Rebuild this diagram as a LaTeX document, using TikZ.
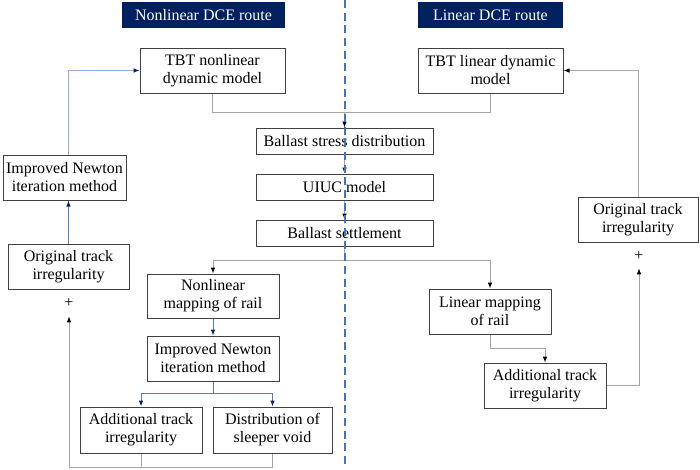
\documentclass[tikz,border=0pt]{standalone}
\usepackage{fontspec}
\setmainfont{Liberation Serif}
\usetikzlibrary{arrows.meta}
\definecolor{navy}{HTML}{0B2466}
\definecolor{hdrfill}{HTML}{002060}
\definecolor{gline}{HTML}{A6A6A6}
\definecolor{lblue}{HTML}{8FAADC}
\definecolor{mblue}{HTML}{5A7BBF}
\definecolor{dashblue}{HTML}{4472C4}
\definecolor{boxline}{HTML}{404040}
\begin{document}
\begin{tikzpicture}[x=0.75pt,y=-0.75pt,
  every node/.style={font=\fontsize{12}{13.5}\selectfont},
  box/.style={draw=boxline,line width=0.75pt,fill=white,inner sep=0pt,align=center},
  hdr/.style={fill=hdrfill,text=white,inner sep=0pt,minimum height=19.5pt},
  plus/.style={inner sep=0pt,minimum width=10pt},
  gconn/.style={draw=gline,line width=0.75pt},
  garrow/.style={gconn,-{Latex[length=4.5pt,width=3.5pt,color=black]}},
  lbconn/.style={draw=lblue,line width=0.75pt},
  lbarrow/.style={lbconn,-{Latex[length=4.5pt,width=3.5pt,color=navy]}},
  mbconn/.style={draw=mblue,line width=0.75pt},
  mbarrow/.style={mbconn,-{Latex[length=4.5pt,width=3.5pt,color=navy]}},
  dashline/.style={draw=dashblue,line width=1.5pt,dash pattern=on 6pt off 3.5pt}
]
\useasboundingbox (0,0) rectangle (700,469);

% headers
\node[hdr,minimum width=122.25pt] (hdrNL) at (203.5,15) {Nonlinear DCE route};
\node[hdr,minimum width=108.75pt] (hdrL) at (490.5,15) {Linear DCE route};

% boxes
\node[box,minimum width=108.75pt,minimum height=33.75pt] (tbtNL) at (212.5,70.5) {TBT nonlinear\\dynamic model};
\node[box,minimum width=108.75pt,minimum height=33.75pt] (tbtL) at (490.5,70.5) {TBT linear dynamic\\model};
\node[box,minimum width=92.25pt,minimum height=33.75pt] (newL) at (64.5,177.5) {Improved Newton\\iteration method};
\node[box,minimum width=132.75pt,minimum height=19.5pt] (bsd) at (344.5,141) {Ballast stress distribution};
\node[box,minimum width=132.75pt,minimum height=19.5pt] (uiuc) at (344.5,187) {UIUC model};
\node[box,minimum width=132.75pt,minimum height=19.5pt] (bset) at (344.5,233) {Ballast settlement};
\node[box,minimum width=90pt,minimum height=33.75pt] (origR) at (638,219.5) {Original track\\irregularity};
\node[box,minimum width=90.75pt,minimum height=33.75pt] (origL) at (68.5,266.5) {Original track\\irregularity};
\node[box,minimum width=99pt,minimum height=33pt] (nlmap) at (213,296) {Nonlinear\\mapping of rail};
\node[box,minimum width=99pt,minimum height=33.75pt] (newM) at (213,358.5) {Improved Newton\\iteration method};
\node[box,minimum width=91.5pt,minimum height=34.5pt] (addL) at (141,430) {Additional track\\irregularity};
\node[box,minimum width=89.25pt,minimum height=34.5pt] (dist) at (272.5,430) {Distribution of\\sleeper void};
\node[box,minimum width=91.5pt,minimum height=33.75pt] (linmap) at (490,311.5) {Linear mapping\\of rail};
\node[box,minimum width=91.5pt,minimum height=33.75pt] (addR) at (545,385.5) {Additional track\\irregularity};

% plus signs
\node[plus,minimum height=19.5pt] (plusL) at (69,303) {+};
\node[plus,minimum height=18pt] (plusR) at (639,256) {+};

% junction coordinates
\coordinate (j1) at (344.5,112);
\coordinate (j2) at (344.5,260);
\coordinate (j3) at (213,393);
\coordinate (j4) at (69,467);

% central route
\draw[gconn] (tbtNL.south) |- (j1);
\draw[gconn] (tbtL.south) |- (j1);
\draw[garrow] (j1) -- (bsd.north);
\draw[garrow] (bsd.south) -- (uiuc.north);
\draw[garrow] (uiuc.south) -- (bset.north);
\draw[gconn] (bset.south) -- (j2);
\draw[garrow] (j2) -| (nlmap.north);
\draw[garrow] (j2) -| (linmap.north);

% nonlinear route
\draw[mbarrow] (nlmap.south) -- (newM.north);
\draw[mbconn] (newM.south) -- (j3);
\draw[mbarrow] (j3) -| (addL.north);
\draw[mbarrow] (j3) -| (dist.north);
\draw[gconn] (dist.south) |- (j4);
\draw[gconn] (addL.south) -- (addL.south |- j4);
\draw[garrow] (j4) -- (plusL.south);
\draw[mbarrow] (origL.north) -- (origL.north |- newL.south);
\draw[lbarrow] (origL.north |- newL.north) |- (tbtNL.west);

% linear route
\draw[gconn] (linmap.south) -- ++(0,14) coordinate (j5);
\draw[garrow] (j5) -| (addR.north);
\draw[garrow] (addR.east) -| (plusR.south);
\draw[garrow] (origR.north) |- (tbtL.east);

% dashed divider
\coordinate (dtop) at (344.5,0);
\coordinate (dbot) at (344.5,466);
\draw[dashline] (dtop) -- (dbot);
\end{tikzpicture}
\end{document}
